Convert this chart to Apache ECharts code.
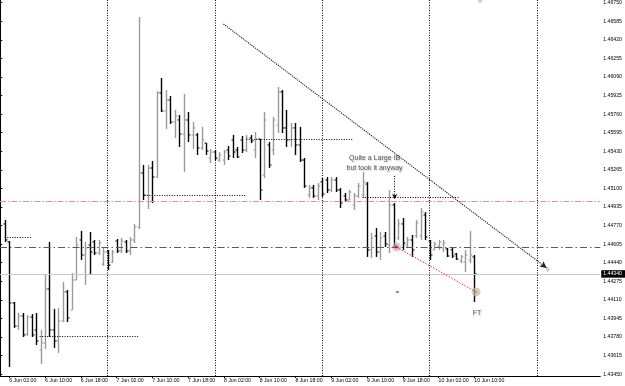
<!DOCTYPE html>
<html><head><meta charset="utf-8">
<script src="https://cdn.jsdelivr.net/npm/echarts@6/dist/echarts.min.js"></script>
<style>html,body{margin:0;padding:0;background:#fff}#c{width:625px;height:386px}</style>
</head><body><div id="c"></div>
<script>
// Hourly bars, hour index counted from 6 Jun 00:00
const firstHour = 1;
const open = [
1.44784,1.44624,1.44082,1.43877,1.43966,1.43806,1.43957,1.43842,1.43664,1.43726,
1.44206,1.43842,1.43744,1.43922,1.44180,1.44020,1.44286,1.44642,1.44508,1.44597,
1.44624,1.44526,1.44428,1.44535,1.44446,1.44633,1.44544,1.44624,1.44544,1.44642,
1.44757,1.45237,1.45041,1.45281,1.45201,1.45948,1.45788,1.45885,1.45690,1.45708,
1.45583,1.45708,1.45575,1.45575,1.45459,1.45503,1.45370,1.45423,1.45352,1.45352,
1.45441,1.45530,1.45441,1.45530,1.45441,1.45548,1.45441,1.45539,1.45219,1.45486,
1.45441,1.45663,1.45957,1.45637,1.45530,1.45637,1.45486,1.45352,1.45041,1.45104,
1.45033,1.45157,1.45175,1.45086,1.45175,1.45086,1.45033,1.44997,1.44953,1.45033,
1.45041,1.45139,1.44553,1.44677,1.44535,1.44677,1.44597,1.44953,1.44659,1.44784,
1.44597,1.44642,1.44677,1.44677,1.44864,1.44633,1.44553,1.44588,1.44571,1.44562,
1.44553,1.44517,1.44455,1.44446,1.44464,1.44491];
const high = [
1.44819,1.44633,1.44091,1.43993,1.43993,1.43975,1.43984,1.43993,1.43842,1.44340,
1.44624,1.44029,1.44037,1.44268,1.44197,1.44348,1.44668,1.44722,1.44624,1.44713,
1.44642,1.44642,1.44571,1.44553,1.44553,1.44650,1.44659,1.44642,1.44668,1.44784,
1.46623,1.45308,1.45308,1.45344,1.45965,1.46081,1.45974,1.45921,1.45797,1.45752,
1.45939,1.45779,1.45690,1.45592,1.45646,1.45503,1.45450,1.45441,1.45423,1.45441,
1.45477,1.45575,1.45468,1.45566,1.45575,1.45575,1.45601,1.45539,1.45779,1.45512,
1.45734,1.46001,1.45974,1.45797,1.45681,1.45681,1.45646,1.45370,1.45130,1.45130,
1.45148,1.45192,1.45201,1.45201,1.45201,1.45104,1.45059,1.45086,1.45059,1.45148,
1.45246,1.45157,1.44704,1.44748,1.44713,1.44713,1.45086,1.44970,1.44828,1.44837,
1.44668,1.44686,1.44819,1.44926,1.44890,1.44642,1.44624,1.44642,1.44642,1.44571,
1.44571,1.44526,1.44508,1.44553,1.44722,1.44508];
const low = [
1.44624,1.43513,1.43860,1.43842,1.43780,1.43789,1.43780,1.43709,1.43540,1.43673,
1.43780,1.43682,1.43638,1.43913,1.43913,1.44020,1.44286,1.44464,1.44242,1.44331,
1.44508,1.44508,1.44411,1.44375,1.44437,1.44526,1.44526,1.44526,1.44508,1.44615,
1.44739,1.44997,1.44917,1.44970,1.45192,1.45779,1.45628,1.45672,1.45548,1.45468,
1.45246,1.45512,1.45450,1.45397,1.45441,1.45397,1.45326,1.45352,1.45335,1.45308,
1.45352,1.45370,1.45370,1.45415,1.45423,1.45503,1.45370,1.44997,1.45192,1.45281,
1.45397,1.45592,1.45592,1.45468,1.45468,1.45397,1.45335,1.45104,1.45015,1.45015,
1.44997,1.45024,1.45059,1.45068,1.45068,1.44926,1.44979,1.44997,1.44908,1.45015,
1.45015,1.44491,1.44482,1.44491,1.44464,1.44579,1.44526,1.44579,1.44642,1.44553,
1.44571,1.44491,1.44659,1.44642,1.44642,1.44464,1.44553,1.44553,1.44535,1.44491,
1.44482,1.44464,1.44437,1.44357,1.44437,1.44091];
const close = [
1.44642,1.44082,1.43877,1.43966,1.43798,1.43957,1.43798,1.43744,1.43726,1.44206,
1.43842,1.43744,1.43922,1.44180,1.43949,1.44286,1.44597,1.44508,1.44571,1.44535,
1.44526,1.44615,1.44535,1.44419,1.44535,1.44544,1.44633,1.44544,1.44642,1.44757,
1.45237,1.45041,1.45281,1.45201,1.45948,1.45788,1.45885,1.45690,1.45743,1.45583,
1.45708,1.45575,1.45637,1.45459,1.45530,1.45432,1.45423,1.45370,1.45397,1.45423,
1.45388,1.45423,1.45379,1.45441,1.45548,1.45521,1.45539,1.45086,1.45708,1.45308,
1.45708,1.45957,1.45637,1.45530,1.45637,1.45486,1.45352,1.45121,1.45104,1.45033,
1.45121,1.45050,1.45086,1.45175,1.45086,1.44970,1.44997,1.45068,1.45033,1.45121,
1.45157,1.44553,1.44659,1.44535,1.44659,1.44606,1.44953,1.44597,1.44784,1.44615,
1.44642,1.44553,1.44793,1.44890,1.44668,1.44508,1.44606,1.44624,1.44615,1.44499,
1.44499,1.44473,1.44491,1.44508,1.44508,1.44340];

const yTicks = [1.46750,1.46585,1.46420,1.46255,1.46090,1.45925,1.45760,1.45595,1.45430,1.45265,
1.45100,1.44935,1.44770,1.44605,1.44440,1.44275,1.44110,1.43945,1.43780,1.43615,1.43450];
const xLabelHours = [2,10,18,26,34,42,50,58,66,74,82,90,98,106];
const xLabels = ['6 Jun 02:00','6 Jun 10:00','6 Jun 18:00','7 Jun 02:00','7 Jun 10:00','7 Jun 18:00',
'8 Jun 02:00','8 Jun 10:00','8 Jun 18:00','9 Jun 02:00','9 Jun 10:00','9 Jun 18:00','10 Jun 02:00','10 Jun 10:00'];

// chart objects
const daySeparators = [0,24,48,72,96,120];
const pinkLevel = 1.44988;
const grayLevel = 1.44579;
const bidPrice = 1.44340;
const dottedLevels = [[1,7,1.44668],[8.8,31,1.43782],[32.2,55,1.45041],[55,78.8,1.45536],[81,102.8,1.45024]];
const trendLine = [[49.9,1.46561],[122.2,1.44393]];
const ibArrow = [[88.2,1.45210],[88.2,1.45006]];
const tradeLine = [[88.6,1.44579],[106.4,1.44180]];
const tradeDots = [[88.6,1.44579],[106.4,1.44180]];
const bluePoint = [[88.8,1.44180]];
const diamonds = [[107.3,1.46768],[122.4,1.44380]];
const notes = [
  {value:[83.7,1.45326], text:'Quite a Large IB\nbut took it anyway'},
  {value:[106.6,1.43993], text:'FT'}
];

const bars = open.map((o,i)=>[firstHour+i, o, high[i], low[i], close[i]]);

function renderBar(params, api){
  const t=api.value(0), o=api.value(1), h=api.value(2), l=api.value(3), c=api.value(4);
  const pH=api.coord([t,h]), pL=api.coord([t,l]), pO=api.coord([t,o]), pC=api.coord([t,c]);
  const x=Math.round(pH[0])+0.5;
  const col = c>=o ? '#9a9a9a' : '#000000';
  return {type:'group', children:[
    {type:'line', shape:{x1:x,y1:pH[1],x2:x,y2:pL[1]}, style:{stroke:col,lineWidth:1.4}},
    {type:'line', shape:{x1:x-2,y1:pO[1],x2:x,y2:pO[1]}, style:{stroke:col,lineWidth:1}},
    {type:'line', shape:{x1:x,y1:pC[1],x2:x+2,y2:pC[1]}, style:{stroke:col,lineWidth:1}}
  ]};
}

const dotted = {color:'#000', type:[1,1.5], width:1};
const objLines = [];
daySeparators.forEach(v=>objLines.push([{coord:[v,1.43433]},{coord:[v,1.46774]}]));
objLines.push([{coord:[-0.0667,pinkLevel], lineStyle:{color:'#e58aa2',type:[6,2,1.5,2],width:1}},{coord:[134.16,pinkLevel]}]);
objLines.push([{coord:[-0.0667,grayLevel], lineStyle:{color:'#5a5a5a',type:[7,3,1.5,3],width:1}},{coord:[134.16,grayLevel]}]);
objLines.push([{coord:[-0.0667,bidPrice], lineStyle:{color:'#c8c8c8',type:'solid',width:1},
  label:{show:true, position:'end', formatter:bidPrice.toFixed(5), color:'#fff',
    backgroundColor:'#000', fontSize:5.2, padding:[1.5,3,1,2], distance:1}},{coord:[134.16,bidPrice]}]);
dottedLevels.forEach(d=>objLines.push([{coord:[d[0],d[2]]},{coord:[d[1],d[2]]}]));
objLines.push([{coord:trendLine[0], symbol:'none', lineStyle:{color:'#222',type:[1.2,1],width:1.1}},{coord:trendLine[1], symbol:'arrow', symbolSize:[5,7]}]);
objLines.push([{coord:ibArrow[0], symbol:'none'},{coord:ibArrow[1], symbol:'arrow', symbolSize:[4,5]}]);
objLines.push([{coord:tradeLine[0], lineStyle:{color:'#ff2020',type:[1.5,1.5],width:1}},{coord:tradeLine[1]}]);

const chart = echarts.init(document.getElementById('c'), null, {renderer:'canvas'});
chart.setOption({
  animation:false,
  backgroundColor:'#ffffff',
  textStyle:{fontFamily:'Liberation Sans'},
  grid:{left:0,right:21,top:0,bottom:10,containLabel:false},
  xAxis:{type:'value', min:-0.0667, max:134.16,
    axisLine:{show:true,lineStyle:{color:'#000',width:1}},
    axisTick:{show:true,length:2,lineStyle:{color:'#000'},customValues:xLabelHours},
    splitLine:{show:false},
    axisLabel:{customValues:xLabelHours, formatter:v=>xLabels[xLabelHours.indexOf(v)]||'',
      align:'left', fontSize:5.2, color:'#000', margin:2}
  },
  yAxis:{type:'value', position:'right', min:1.43433, max:1.46774, scale:true,
    axisLine:{show:true,lineStyle:{color:'#000',width:1}},
    axisTick:{show:true,length:2,lineStyle:{color:'#000'},customValues:yTicks},
    splitLine:{show:false},
    axisLabel:{customValues:yTicks, formatter:v=>v.toFixed(5), fontSize:5.2, color:'#000', margin:3}
  },
  series:[
    {type:'custom', renderItem:renderBar, data:bars, z:3, clip:true,
      encode:{x:0,y:[1,2,3,4]}},
    {type:'scatter', data:tradeDots, symbol:'circle', symbolSize:9, z:4, silent:true,
      itemStyle:{color:'rgba(185,185,185,0.85)'},
      markLine:{silent:true, symbol:['none','none'], label:{show:false}, animation:false,
        lineStyle:dotted, data:objLines}
    },
    {type:'scatter', data:tradeDots, symbol:'circle', symbolSize:3, z:5, silent:true,
      itemStyle:{color:p=>p.dataIndex===0?'#ff0000':'#ff9900'}},
    {type:'scatter', data:bluePoint, symbol:'rect', symbolSize:[3,1.2], z:5, silent:true,
      itemStyle:{color:'#0000ff'}},
    {type:'scatter', data:diamonds, symbol:'diamond', symbolSize:[5,6], z:5, silent:true,
      itemStyle:{color:'#c4c4c4'}},
    {type:'scatter', data:notes, symbolSize:0, z:6, silent:true,
      label:{show:true, position:'inside', formatter:p=>p.data.text, fontSize:7, lineHeight:9.5,
        color:'#2a2a2a', textShadowColor:'rgba(150,150,150,0.6)', textShadowBlur:1,
        textShadowOffsetX:1, textShadowOffsetY:1}}
  ]
});
</script></body></html>
